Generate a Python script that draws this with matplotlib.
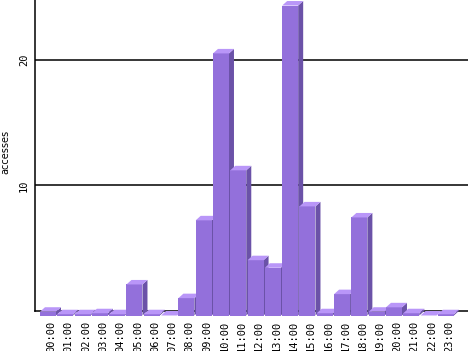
import matplotlib
matplotlib.use("Agg")
import matplotlib.pyplot as plt
from matplotlib.patches import Polygon

hours = ["%02d:00" % h for h in range(24)]
accesses = [0.3, 0.1, 0.1, 0.18, 0.1, 2.47, 0.1, 0.0, 1.38, 7.57, 20.85, 11.55,
            4.4, 3.8, 24.66, 8.68, 0.18, 1.7, 7.8, 0.3, 0.65, 0.18, 0.0, 0.1]
yticks = [10, 20]

front_col = "#9370db"
top_col = "#b996f8"
side_col = "#6b52a8"

W, H = 468, 351
fig = plt.figure(figsize=(W / 100, H / 100), dpi=100)
ax = fig.add_axes([35 / W, 40 / H, 433 / W, 311 / H])

ymax = 311 / 12.57
ax.set_xlim(-0.75, -0.75 + 433 / 17.3)
ax.set_ylim(0, ymax)

w = 16 / 17.3      # front face width
dx = 5 / 17.3      # depth offset (x)
dy = 4.5 / 12.57   # depth offset (y)

for i, v in enumerate(accesses):
    l, r = i - w / 2, i + w / 2
    front = Polygon([(l, -dy), (r, -dy), (r, v - dy), (l, v - dy)],
                    closed=True, fc=front_col, ec="none", zorder=3, clip_on=False)
    top = Polygon([(l, v - dy), (r, v - dy), (r + dx, v), (l + dx, v)],
                  closed=True, fc=top_col, ec="none", zorder=3, clip_on=False)
    side = Polygon([(r, -dy), (r + dx, 0), (r + dx, v), (r, v - dy)],
                   closed=True, fc=side_col, ec="none", zorder=3, clip_on=False)
    for p in (side, front, top):
        ax.add_patch(p)

for y in yticks:
    ax.axhline(y, color="black", lw=1.1, zorder=1)

ax.spines["top"].set_visible(False)
ax.spines["right"].set_visible(False)
for s in ("left", "bottom"):
    ax.spines[s].set_linewidth(1.1)
    ax.spines[s].set_color("black")

ax.set_xticks([i + 0.2 for i in range(24)])
ax.set_xticklabels(hours, rotation=90, family="DejaVu Sans Mono", fontsize=7.5)
ax.set_yticks(yticks)
ax.set_yticklabels([str(y) for y in yticks], rotation=90, va="center",
                   family="DejaVu Sans Mono", fontsize=7.5)
ax.tick_params(axis="x", length=0, pad=7)
ax.tick_params(axis="y", length=0, pad=4.5)

# y axis title
fig.text(5 / W, 1 - 152 / H, "accesses", rotation=90, ha="center", va="center",
         fontsize=7)

fig.savefig("out.png", dpi=100)
